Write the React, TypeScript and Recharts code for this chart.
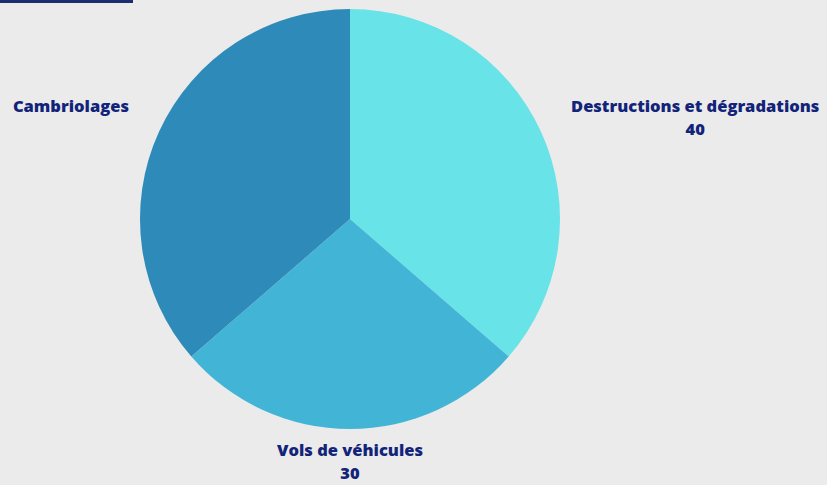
import { PieChart, Pie, Cell } from 'recharts'

const categories = ['Destructions et dégradations', 'Vols de véhicules', 'Cambriolages']
const values = [40, 30, 40]
// the reference leaves out the number under "Cambriolages"
const showValue = [true, true, false]

const COLORS = ['#68e3e8', '#42b5d6', '#2e8bb9']
const TEXT = '#122479'
const FONT = "800 16.5px 'Open Sans'"

const data = categories.map((name, i) => ({ name, value: values[i], showValue: showValue[i] }))

let ctx: CanvasRenderingContext2D | null = null
function textWidth(s: string) {
  if (!ctx) ctx = document.createElement('canvas').getContext('2d')
  if (!ctx) return s.length * 9
  ctx.font = FONT
  return ctx.measureText(s).width
}

const RAD = Math.PI / 180

function renderLabel(props: any) {
  const { cx, cy, midAngle, outerRadius, name, value, payload } = props
  const r = outerRadius + 33
  const cos = Math.cos(-midAngle * RAD)
  const sin = Math.sin(-midAngle * RAD)
  const x = cx + r * cos
  const y = cy + r * sin
  const w = textWidth(name)
  let center = x
  if (cos > 0.1) center = x + w / 2
  else if (cos < -0.1) center = x - w / 2
  return (
    <text
      x={center}
      y={y}
      textAnchor="middle"
      fill={TEXT}
      style={{ font: FONT }}
    >
      <tspan x={center} y={y - 12.5} dominantBaseline="central">{name}</tspan>
      {payload.showValue && (
        <tspan x={center} y={y + 10} dominantBaseline="central">{value}</tspan>
      )}
    </text>
  )
}

export default function App() {
  return (
    <div
      style={{
        position: 'fixed',
        left: 0,
        top: 0,
        width: 827,
        height: 485,
        background: '#ebebeb',
        overflow: 'hidden',
      }}
    >
      <div style={{ position: 'absolute', left: 0, top: 0, width: 133, height: 2.5, background: '#1b2d70' }} />
      <PieChart width={827} height={485} margin={{ top: 0, right: 0, bottom: 0, left: 0 }}>
        <Pie
          data={data}
          dataKey="value"
          nameKey="name"
          cx={350}
          cy={219}
          outerRadius={210}
          startAngle={90}
          endAngle={-270}
          stroke="none"
          labelLine={false}
          label={renderLabel}
          isAnimationActive={false}
        >
          {data.map((entry, index) => (
            <Cell key={`cell-${index}`} fill={COLORS[index % COLORS.length]} />
          ))}
        </Pie>
      </PieChart>
    </div>
  )
}
